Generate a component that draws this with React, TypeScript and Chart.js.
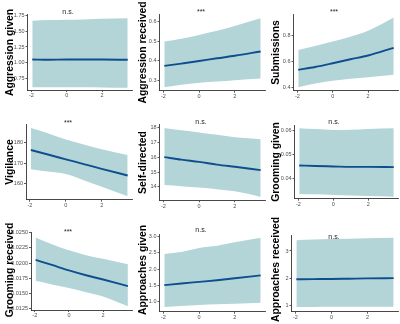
import React, { useEffect, useRef } from "react";
import { Chart, registerables } from "chart.js";

Chart.register(...registerables);

// Predictor values (standardised x) at which the fitted curves are read
const xValues = [-1.95, -1, 0, 1, 2, 3.45];
const xTicks = [-2, 0, 2];

// Aggression given
const aggGivenFit = [1.05, 1.045, 1.05, 1.05, 1.05, 1.045];
const aggGivenUpper = [1.67, 1.68, 1.685, 1.69, 1.7, 1.71];
const aggGivenLower = [0.605, 0.606, 0.608, 0.607, 0.604, 0.6];
const aggGivenTicks = [0.75, 1.0, 1.25, 1.5, 1.75];

// Aggression received
const aggRecFit = [0.373, 0.385, 0.398, 0.412, 0.425, 0.447];
const aggRecUpper = [0.498, 0.512, 0.532, 0.553, 0.578, 0.617];
const aggRecLower = [0.264, 0.277, 0.287, 0.293, 0.3, 0.309];
const aggRecTicks = [0.3, 0.4, 0.5, 0.6];

// Submissions
const subFit = [0.534, 0.556, 0.585, 0.616, 0.645, 0.704];
const subUpper = [0.688, 0.718, 0.752, 0.79, 0.836, 0.938];
const subLower = [0.4, 0.428, 0.45, 0.465, 0.476, 0.496];
const subTicks = [0.4, 0.6, 0.8];

// Vigilance
const vigFit = [176.4, 174.2, 171.9, 169.6, 167.3, 164.1];
const vigUpper = [187, 184.5, 181.4, 179, 176.7, 174];
const vigLower = [167.1, 166.0, 164.8, 161.8, 158.6, 154.1];
const vigTicks = [160, 170, 180];

// Self-directed
const selfFit = [16.0, 15.83, 15.68, 15.5, 15.35, 15.13];
const selfUpper = [17.95, 17.8, 17.66, 17.5, 17.33, 17.2];
const selfLower = [14.13, 14.05, 13.96, 13.85, 13.7, 13.33];
const selfTicks = [14, 15, 16, 17, 18];

// Grooming given
const groomGivenFit = [0.0456, 0.0454, 0.0452, 0.045, 0.045, 0.0449];
const groomGivenUpper = [0.0611, 0.0607, 0.0603, 0.0604, 0.0607, 0.061];
const groomGivenLower = [0.0338, 0.0336, 0.0333, 0.0331, 0.0329, 0.0326];
const groomGivenTicks = [0.04, 0.05, 0.06];

// Grooming received
const groomRecFit = [0.02054, 0.0197, 0.0188, 0.018, 0.0173, 0.01623];
const groomRecUpper = [0.0242, 0.0231, 0.0221, 0.0213, 0.0207, 0.0198];
const groomRecLower = [0.0171, 0.0165, 0.0159, 0.0152, 0.0145, 0.0129];
const groomRecTicks = [0.0125, 0.015, 0.0175, 0.02, 0.0225, 0.025];

// Approaches given
const appGivenFit = [1.51, 1.56, 1.61, 1.66, 1.72, 1.81];
const appGivenUpper = [2.47, 2.53, 2.65, 2.72, 2.83, 2.97];
const appGivenLower = [0.84, 0.87, 0.9, 0.92, 0.94, 0.97];
const appGivenTicks = [1.0, 1.5, 2.0, 2.5, 3.0];

// Approaches received
const appRecFit = [1.96, 1.965, 1.97, 1.98, 1.99, 2.0];
const appRecUpper = [3.4, 3.42, 3.44, 3.45, 3.47, 3.49];
const appRecLower = [0.94, 0.94, 0.945, 0.945, 0.95, 0.95];
const appRecTicks = [1, 2, 3];

const labels = [
  "Aggression given", "Aggression received", "Submissions",
  "Vigilance", "Self-directed", "Grooming given",
  "Grooming received", "Approaches given", "Approaches received",
];
const significance = ["n.s.", "***", "***", "***", "n.s.", "n.s.", "***", "n.s.", "n.s."];

const panels = [
  { fit: aggGivenFit, upper: aggGivenUpper, lower: aggGivenLower, ticks: aggGivenTicks, dec: 2, yMin: 0.5625, yMax: 1.766, left: 27.5, top: 14.7, bottom: 90, sigY: 14.1, labelY: 52.5 },
  { fit: aggRecFit, upper: aggRecUpper, lower: aggRecLower, ticks: aggRecTicks, dec: 1, yMin: 0.246, yMax: 0.639, left: 26.5, top: 14, bottom: 90.7, sigY: 14, labelY: 52.5 },
  { fit: subFit, upper: subUpper, lower: subLower, ticks: subTicks, dec: 1, yMin: 0.373, yMax: 0.965, left: 27.5, top: 14, bottom: 90.7, sigY: 14, labelY: 52.5 },
  { fit: vigFit, upper: vigUpper, lower: vigLower, ticks: vigTicks, dec: 0, yMin: 152.4, yMax: 188.6, left: 26, top: 16.7, bottom: 91.7, sigY: 16.7, labelY: 54 },
  { fit: selfFit, upper: selfUpper, lower: selfLower, ticks: selfTicks, dec: 0, yMin: 13.1, yMax: 18.18, left: 26.5, top: 16.7, bottom: 92.3, sigY: 15.8, labelY: 54.5 },
  { fit: groomGivenFit, upper: groomGivenUpper, lower: groomGivenLower, ticks: groomGivenTicks, dec: 2, yMin: 0.0318, yMax: 0.0624, left: 28.5, top: 17, bottom: 90.7, sigY: 15.8, labelY: 54 },
  { fit: groomRecFit, upper: groomRecUpper, lower: groomRecLower, ticks: groomRecTicks, dec: 4, yMin: 0.01229, yMax: 0.02507, left: 31, top: 16.3, bottom: 94, sigY: 18, labelY: 54 },
  { fit: appGivenFit, upper: appGivenUpper, lower: appGivenLower, ticks: appGivenTicks, dec: 1, yMin: 0.692, yMax: 3.074, left: 26.5, top: 18.3, bottom: 95.7, sigY: 15.8, labelY: 54 },
  { fit: appRecFit, upper: appRecUpper, lower: appRecLower, ticks: appRecTicks, dec: 0, yMin: 0.764, yMax: 3.578, left: 25.5, top: 19.3, bottom: 95.7, sigY: 22.5, labelY: 53.5 },
];

const BAND = "#b3d5d8";
const LINE = "#0f4e8e";
const AXIS = "#333333";
const TICK_TEXT = "#4d4d4d";
const FONT = "'Liberation Sans', Arial, sans-serif";

function Panel({ index, width, height }: { index: number; width: number; height: number }) {
  const ref = useRef<HTMLCanvasElement | null>(null);
  useEffect(() => {
    const p = panels[index];
    const sig = significance[index];
    const textPlugin = {
      id: "panelText" + index,
      afterDraw(chart: any) {
        const ctx = chart.ctx;
        ctx.save();
        ctx.font = "7px " + FONT;
        ctx.fillStyle = "#222222";
        ctx.textAlign = "center";
        ctx.textBaseline = "alphabetic";
        ctx.fillText(sig, 68, p.sigY);
        ctx.restore();
        ctx.save();
        ctx.translate(9.8, p.labelY);
        ctx.rotate(-Math.PI / 2);
        ctx.font = "bold 10.4px " + FONT;
        ctx.fillStyle = "#000000";
        ctx.textAlign = "center";
        ctx.textBaseline = "middle";
        ctx.fillText(labels[index], 0, 0);
        ctx.restore();
      },
    };
    const mk = (arr: number[]) => xValues.map((x, i) => ({ x, y: arr[i] }));
    const chart = new Chart(ref.current as HTMLCanvasElement, {
      type: "line",
      data: {
        datasets: [
          { label: labels[index], data: mk(p.fit), borderColor: LINE, borderWidth: 1.9, pointRadius: 0, fill: false, cubicInterpolationMode: "monotone" },
          { label: "upper", data: mk(p.upper), borderWidth: 0, borderColor: "rgba(0,0,0,0)", backgroundColor: BAND, pointRadius: 0, fill: "+1", cubicInterpolationMode: "monotone" },
          { label: "lower", data: mk(p.lower), borderWidth: 0, borderColor: "rgba(0,0,0,0)", pointRadius: 0, fill: false, cubicInterpolationMode: "monotone" },
        ],
      },
      options: {
        responsive: false,
        animation: false,
        devicePixelRatio: 1,
        layout: { padding: { left: 0, top: p.top, right: width - 132.5, bottom: 0 } },
        plugins: { legend: { display: false }, tooltip: { enabled: false }, title: { display: false } },
        scales: {
          x: {
            type: "linear",
            min: -2.22,
            max: 3.72,
            afterBuildTicks: (s: any) => { s.ticks = xTicks.map((v) => ({ value: v })); },
            afterFit: (s: any) => { s.height = height - p.bottom; },
            ticks: { color: TICK_TEXT, font: { family: FONT, size: 5.5 }, padding: 0.5, maxRotation: 0, callback: (v: any) => String(v) },
            grid: { display: true, drawOnChartArea: false, drawTicks: true, tickLength: 2, color: AXIS, lineWidth: 0.8 },
            border: { display: true, color: AXIS, width: 0.9 },
          },
          y: {
            type: "linear",
            min: p.yMin,
            max: p.yMax,
            afterBuildTicks: (s: any) => { s.ticks = p.ticks.map((v) => ({ value: v })); },
            afterFit: (s: any) => { s.width = p.left; },
            ticks: { color: TICK_TEXT, font: { family: FONT, size: 5.5 }, padding: 1, callback: (v: any) => Number(v).toFixed(p.dec) },
            grid: { display: true, drawOnChartArea: false, drawTicks: true, tickLength: 2, color: AXIS, lineWidth: 0.8 },
            border: { display: true, color: AXIS, width: 0.9 },
          },
        },
      },
      plugins: [textPlugin],
    } as any);
    return () => chart.destroy();
  }, [index, width, height]);
  return <canvas ref={ref} width={width} height={height} style={{ display: "block", width, height }} />;
}

export default function App() {
  const cols = [0, 133, 266];
  const rows = [0, 108, 216];
  return (
    <div style={{ position: "absolute", left: 0, top: 0, width: 400, height: 324, background: "#ffffff", overflow: "hidden" }}>
      {panels.map((_, i) => {
        const c = i % 3;
        const r = Math.floor(i / 3);
        const w = c === 2 ? 134 : 133;
        return (
          <div key={i} style={{ position: "absolute", left: cols[c], top: rows[r], width: w, height: 108 }}>
            <Panel index={i} width={w} height={108} />
          </div>
        );
      })}
    </div>
  );
}
